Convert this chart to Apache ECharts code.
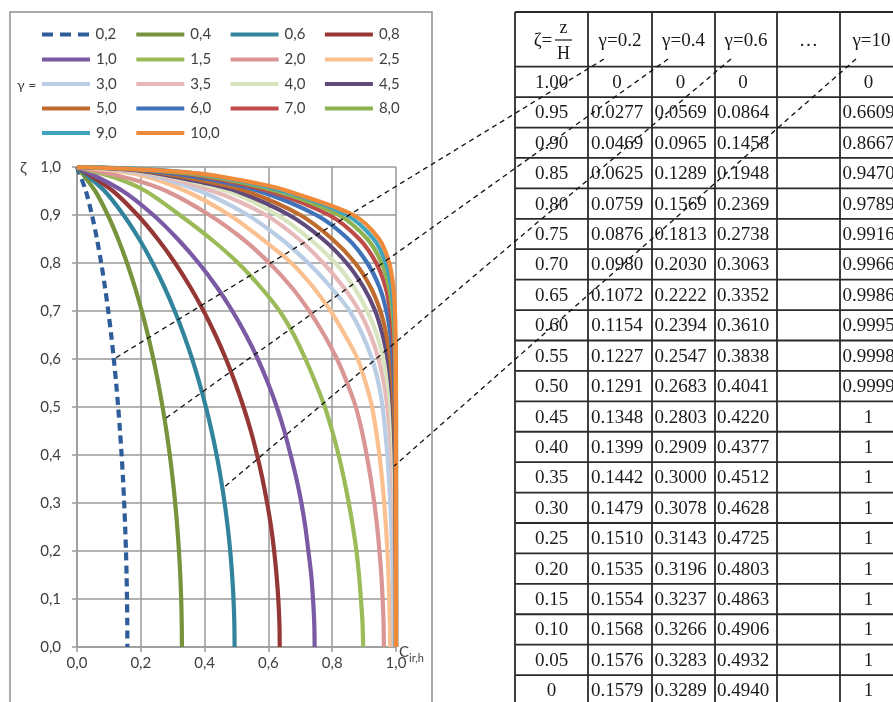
<!DOCTYPE html>
<html><head><meta charset="utf-8">
<script src="https://cdn.jsdelivr.net/npm/echarts@6/dist/echarts.min.js"></script>
<style>html,body{margin:0;padding:0;background:#fff}#c{width:893px;height:702px}</style>
</head><body><div id="c"></div>
<script>
// ---- table data (ζ = z/H and C for γ = 0.2, 0.4, 0.6, 10) ----
const zeta = [1.00,0.95,0.90,0.85,0.80,0.75,0.70,0.65,0.60,0.55,0.50,0.45,0.40,0.35,0.30,0.25,0.20,0.15,0.10,0.05,0];
const g02 = [0,0.0277,0.0469,0.0625,0.0759,0.0876,0.0980,0.1072,0.1154,0.1227,0.1291,0.1348,0.1399,0.1442,0.1479,0.1510,0.1535,0.1554,0.1568,0.1576,0.1579];
const g04 = [0,0.0569,0.0965,0.1289,0.1569,0.1813,0.2030,0.2222,0.2394,0.2547,0.2683,0.2803,0.2909,0.3000,0.3078,0.3143,0.3196,0.3237,0.3266,0.3283,0.3289];
const g06 = [0,0.0864,0.1458,0.1948,0.2369,0.2738,0.3063,0.3352,0.3610,0.3838,0.4041,0.4220,0.4377,0.4512,0.4628,0.4725,0.4803,0.4863,0.4906,0.4932,0.4940];
const g10 = [0,0.6609,0.8667,0.9470,0.9789,0.9916,0.9966,0.9986,0.9995,0.9998,0.9999,1,1,1,1,1,1,1,1,1,1];
const tableHeaders = ['γ=0.2','γ=0.4','γ=0.6','…','γ=10'];

// ---- curves ----
const g08 = [0,0.1125,0.1895,0.2530,0.3075,0.3550,0.3970,0.4340,0.4670,0.4960,0.5220,0.5450,0.5645,0.5815,0.5960,0.6085,0.6180,0.6255,0.6310,0.6345,0.6355];
const g1 = [0,0.1434,0.2391,0.3156,0.3814,0.4381,0.4870,0.5296,0.5668,0.5987,0.6264,0.6499,0.6697,0.6881,0.7035,0.7158,0.7253,0.7343,0.7398,0.7437,0.7450];
const g15 = [[0,1],[0.13,0.975],[0.215,0.95],[0.322,0.9],[0.42,0.85],[0.505,0.8],[0.575,0.75],[0.635,0.7],[0.68,0.65],[0.716,0.6],[0.748,0.55],[0.777,0.5],[0.8,0.45],[0.82,0.4],[0.837,0.35],[0.852,0.3],[0.865,0.25],[0.876,0.2],[0.884,0.15],[0.89,0.1],[0.895,0.05],[0.897,0]];
const g20 = [[0,1],[0.17,0.975],[0.28,0.95],[0.415,0.9],[0.52,0.85],[0.603,0.8],[0.672,0.75],[0.728,0.7],[0.775,0.65],[0.815,0.6],[0.847,0.55],[0.874,0.5],[0.893,0.45],[0.908,0.4],[0.921,0.35],[0.932,0.3],[0.941,0.25],[0.948,0.2],[0.954,0.15],[0.958,0.1],[0.961,0.05],[0.962,0]];
const g25 = [[0,1],[0.2,0.983],[0.34,0.95],[0.478,0.9],[0.58,0.85],[0.672,0.8],[0.74,0.75],[0.795,0.7],[0.84,0.65],[0.88,0.6],[0.905,0.55],[0.925,0.5],[0.948,0.4],[0.963,0.3],[0.973,0.2],[0.979,0.1],[0.982,0]];
const g30 = [[0,1],[0.2,0.987],[0.385,0.95],[0.535,0.9],[0.64,0.85],[0.725,0.8],[0.795,0.75],[0.855,0.7],[0.895,0.65],[0.925,0.6],[0.945,0.55],[0.958,0.5],[0.973,0.4],[0.982,0.3],[0.988,0.2],[0.991,0.1],[0.993,0]];
const g35 = [[0,1],[0.2,0.989],[0.425,0.95],[0.592,0.9],[0.695,0.85],[0.772,0.8],[0.835,0.75],[0.885,0.7],[0.92,0.65],[0.945,0.6],[0.962,0.55],[0.973,0.5],[0.986,0.4],[0.992,0.3],[0.995,0.2],[0.997,0.1],[0.998,0]];
const g40 = [[0,1],[0.2,0.991],[0.47,0.95],[0.628,0.9],[0.73,0.85],[0.81,0.8],[0.868,0.75],[0.91,0.7],[0.94,0.65],[0.96,0.6],[0.974,0.55],[0.983,0.5],[0.992,0.4],[0.996,0.3],[0.998,0.2],[0.999,0.1],[0.999,0]];
const g45 = [[0,1],[0.2,0.992],[0.4,0.967],[0.5,0.95],[0.665,0.9],[0.77,0.85],[0.845,0.8],[0.898,0.75],[0.935,0.7],[0.958,0.65],[0.974,0.6],[0.984,0.55],[0.99,0.5],[0.996,0.4],[0.998,0.3],[0.999,0.2],[1,0.1],[1,0]];
const g50 = [[0,1],[0.2,0.993],[0.4,0.971],[0.53,0.95],[0.70,0.9],[0.80,0.85],[0.872,0.8],[0.92,0.75],[0.951,0.7],[0.97,0.65],[0.982,0.6],[0.989,0.55],[0.993,0.5],[0.998,0.4],[0.999,0.3],[1,0.2],[1,0]];
const g60 = [[0,1],[0.2,0.994],[0.4,0.976],[0.57,0.95],[0.75,0.9],[0.85,0.85],[0.91,0.8],[0.948,0.75],[0.97,0.7],[0.983,0.65],[0.99,0.6],[0.994,0.55],[0.997,0.5],[0.999,0.4],[1,0.3],[1,0]];
const g70 = [[0,1],[0.2,0.995],[0.4,0.98],[0.60,0.95],[0.79,0.9],[0.885,0.85],[0.938,0.8],[0.967,0.75],[0.982,0.7],[0.99,0.65],[0.995,0.6],[0.997,0.55],[0.999,0.5],[1,0.4],[1,0]];
const g80 = [[0,1],[0.2,0.995],[0.4,0.982],[0.625,0.95],[0.82,0.9],[0.91,0.85],[0.955,0.8],[0.978,0.75],[0.989,0.7],[0.995,0.65],[0.998,0.6],[0.999,0.55],[1,0.5],[1,0]];
const g90 = [[0,1],[0.2,0.996],[0.4,0.984],[0.645,0.95],[0.845,0.9],[0.93,0.85],[0.968,0.8],[0.985,0.75],[0.993,0.7],[0.997,0.65],[0.999,0.6],[1,0.5],[1,0]];
const g10Top = [[0.2,0.995],[0.4,0.985],[0.6,0.961]];

const gammaLabels = ['0,2','0,4','0,6','0,8','1,0','1,5','2,0','2,5','3,0','3,5','4,0','4,5','5,0','6,0','7,0','8,0','9,0','10,0'];
const colors = ['#2E5D9A','#77933C','#31849B','#953735','#7A59A5','#9BBB59','#D99694','#FAC090','#B9CDE5','#E6B9B8','#D7E4BD','#604A7B','#BF6B2E','#3F72B8','#BE4B48','#8EB24F','#3FA3BE','#EE8A3A'];

// connectors: header column -> point on curve (C, ζ)
const connectors = [{col:1, c:g02[8], z:0.60},{col:2, c:0.2745, z:0.475},{col:3, c:0.4558, z:0.33},{col:5, c:0.994, z:0.377}];

// ---- build ----
const zip = arr => zeta.map((z,i)=>[arr[i], z]);
const curves = [zip(g02), zip(g04), zip(g06), zip(g08), zip(g1), g15, g20, g25, g30, g35, g40, g45, g50, g60, g70, g80, g90,
  [[g10[0], zeta[0]]].concat(g10Top, zip(g10).slice(1))];

const FONT = 'Lato, "DejaVu Sans", sans-serif';
const series = curves.map((d,i)=>({
  type:'line', name:gammaLabels[i], data:d, symbol:'none', showSymbol:false, smooth:0.3, clip:false,
  lineStyle:{color:colors[i], width:4.2, type: i===0 ? [8,5] : 'solid'},
  itemStyle:{color:colors[i]}, emphasis:{disabled:true}, animation:false
}));

const DASH_ICON = 'path://M0,0H11V4H0Z M18,0H29V4H18Z M36,0H47V4H36Z';
const rowY = [35, 60, 84.5, 109, 133.5];
const legends = gammaLabels.map((n,i)=>({
  data:[{name:n, icon: i===0 ? DASH_ICON : 'rect'}], left: 42 + (i%4)*94.3, top: rowY[Math.floor(i/4)] - 8, padding:0,
  itemWidth:48, itemHeight:4, itemGap:0, selectedMode:false,
  textStyle:{fontFamily:FONT, fontSize:15, color:'#404040', padding:[0,0,0,1]}
}));

const axisCommon = {
  min:0, max:1,
  axisLine:{show:true, lineStyle:{color:'#9A9A9A', width:1.5}},
  axisTick:{show:true, inside:false, length:5, lineStyle:{color:'#9A9A9A', width:1.5}},
  splitLine:{show:true, lineStyle:{color:'#9A9A9A', width:1.5}},
  axisLabel:{fontFamily:FONT, fontSize:15, color:'#404040', showMinLabel:true, showMaxLabel:true,
    formatter: v => v.toFixed(1).replace('.', ',')}
};

const option = {
  animation:false,
  backgroundColor:'#fff',
  grid:{left:77, top:167, width:319, height:480, containLabel:false},
  xAxis: Object.assign({type:'value', interval:0.2}, axisCommon, {axisLabel:Object.assign({}, axisCommon.axisLabel, {margin:9})}),
  yAxis: Object.assign({type:'value', interval:0.1}, axisCommon, {axisLabel:Object.assign({}, axisCommon.axisLabel, {margin:16})}),
  legend: legends,
  series: series
};

const chart = echarts.init(document.getElementById('c'));
chart.setOption(option);

// ---- graphics: frame, labels, table, connectors ----
const colEdges = [515, 588, 652, 715, 777, 840, 903];
const headTop = 12, rowTop = 66.7, pitch = 30.42;
const fmtZ = z => z === 0 ? '0' : z.toFixed(2);
const fmtG = v => v === 0 ? '0' : (v === 1 ? '1' : v.toFixed(4));
const SERIF = '"Liberation Serif", "Times New Roman", serif';
const tcol = '#1a1a1a';

const g = [];
g.push({type:'rect', z:50, shape:{x:10, y:12, width:422, height:720}, style:{fill:'none', stroke:'#8E8E8E', lineWidth:1.5}});
g.push({type:'text', z:50, x:17, y:85, style:{text:'γ =', font:'14px ' + FONT, fill:'#404040', align:'left', verticalAlign:'middle'}});
g.push({type:'text', z:50, x:20, y:168, style:{text:'ζ', font:'16px ' + FONT, fill:'#404040', align:'left', verticalAlign:'middle'}});
g.push({type:'text', z:50, x:399, y:652, style:{text:'C', font:'15px ' + FONT, fill:'#404040', align:'left', verticalAlign:'middle'}});
g.push({type:'text', z:50, x:409, y:658, style:{text:'ir,h', font:'11px ' + FONT, fill:'#404040', align:'left', verticalAlign:'middle'}});

// table lines
const nRows = zeta.length;
const hLines = [headTop];
for (let k = 0; k <= nRows; k++) hLines.push(rowTop + k*pitch);
hLines.forEach(y => g.push({type:'line', z:60, shape:{x1:colEdges[0], y1:y, x2:910, y2:y}, style:{stroke:'#2a2a2a', lineWidth:1.8}}));
colEdges.forEach(x => g.push({type:'line', z:60, shape:{x1:x, y1:headTop, x2:x, y2:rowTop + nRows*pitch}, style:{stroke:'#2a2a2a', lineWidth:1.8}}));

// header
const c0 = (colEdges[0] + colEdges[1]) / 2;
g.push({type:'text', z:61, x:543, y:41, style:{text:'ζ=', font:'19px ' + SERIF, fill:tcol, align:'center', verticalAlign:'middle'}});
g.push({type:'text', z:61, x:563.5, y:28, style:{text:'z', font:'18px ' + SERIF, fill:tcol, align:'center', verticalAlign:'middle'}});
g.push({type:'line', z:61, shape:{x1:555, y1:40, x2:572, y2:40}, style:{stroke:tcol, lineWidth:1.2}});
g.push({type:'text', z:61, x:563.5, y:54, style:{text:'H', font:'18px ' + SERIF, fill:tcol, align:'center', verticalAlign:'middle'}});
tableHeaders.forEach((h,j) => {
  const cx = (colEdges[j+1] + colEdges[j+2]) / 2;
  g.push({type:'text', z:61, x:cx, y:41, style:{text:h, font:'19px ' + SERIF, fill:tcol, align:'center', verticalAlign:'middle'}});
});
// rows
const cols = [g02, g04, g06, null, g10];
zeta.forEach((z,i) => {
  const cy = rowTop + (i + 0.5)*pitch + 1;
  g.push({type:'text', z:61, x:c0, y:cy, style:{text:fmtZ(z), font:'19px ' + SERIF, fill:tcol, align:'center', verticalAlign:'middle'}});
  cols.forEach((arr,j) => {
    if (!arr) return;
    const cx = (colEdges[j+1] + colEdges[j+2]) / 2 - 3;
    g.push({type:'text', z:61, x:cx, y:cy, style:{text:fmtG(arr[i]), font:'19px ' + SERIF, fill:tcol, align:'center', verticalAlign:'middle'}});
  });
});

// connectors
connectors.forEach(p => {
  const end = chart.convertToPixel({gridIndex:0}, [p.c, p.z]);
  const sx = colEdges[p.col] + 16, sy = 59;
  g.push({type:'line', z:100, shape:{x1:sx, y1:sy, x2:end[0], y2:end[1]}, style:{stroke:'#111', lineWidth:1.3, lineDash:[5,4]}});
});

chart.setOption({graphic: g});
</script>
</body></html>
